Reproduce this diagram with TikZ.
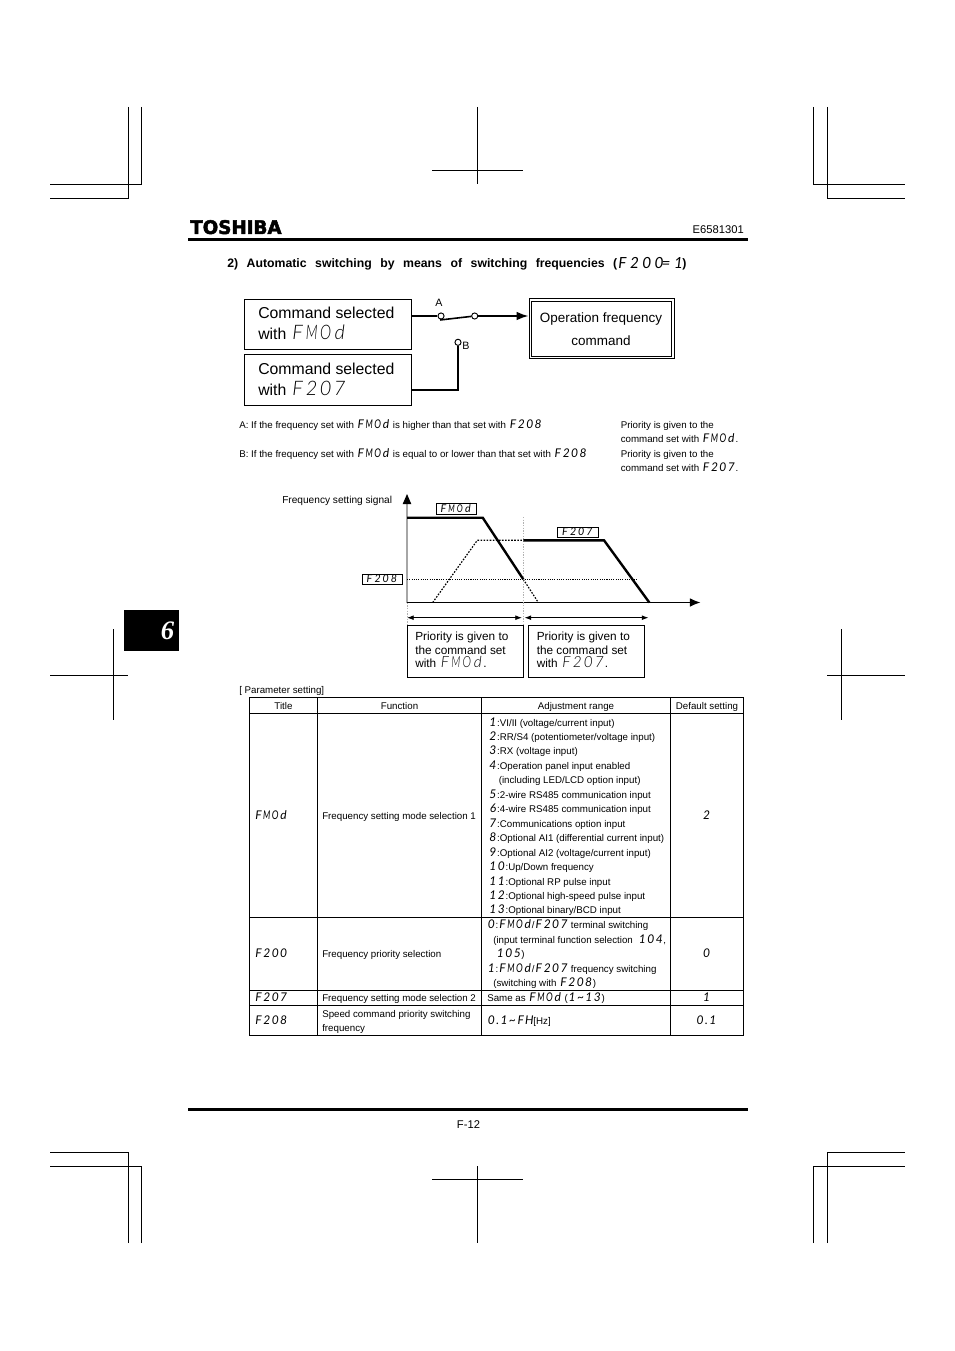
\documentclass[tikz,border=0pt]{standalone}
\usepackage{fontspec}
\setmainfont{Liberation Sans}
\newfontfamily\ledfont{Lato Italic}
\newfontfamily\ledlight{Lato Light Italic}
\newfontfamily\logofont[BoldFeatures={FakeBold=2.4}]{DejaVu Sans}
\newfontfamily\sixfont{Liberation Serif}
\usetikzlibrary{arrows.meta,calc}
\newdimen\ledpitch
\def\ledchar#1{\ifx.#1\makebox[.5\ledpitch][c]{.}\else\ifx M#1\makebox[\ledpitch][c]{\scalebox{.7}[1]{M}}\else\ifx O#1\makebox[\ledpitch][c]{\scalebox{.75}[1]{O}}\else\makebox[\ledpitch][c]{#1}\fi\fi\fi}
\def\ledloop#1{\ifx\relax#1\else\ledchar{#1}\expandafter\ledloop\fi}
\newcommand\led[4]{{#1\fontsize{#2}{#2}\selectfont\ledpitch=#3pt\relax\ledloop#4\relax}}
\newcommand\lb[1]{\led{\ledlight}{15}{10.5}{#1}}
\newcommand\lm[1]{\led{\ledlight}{11.5}{8.2}{#1}}
\newcommand\ls[1]{\led{\ledfont}{9}{6.3}{#1}}
\newcommand\lc[1]{\led{\ledfont}{8}{6.1}{#1}}
\newcommand\lh[1]{\led{\ledfont}{11.5}{9.2}{#1}}
\newcount\tcnt
\newcommand\T[4][]{\global\advance\tcnt by 1 \node[txt,#1] (t\the\tcnt) at (#2,#3) {#4};}
\newcommand\sz[1]{\fontsize{#1}{#1}\selectfont}
\tikzset{
  txt/.style={inner sep=0pt,anchor=base west,text=black,font=\sz{7.3}},
  ctr/.style={anchor=base},
  rgt/.style={anchor=base east},
  crop/.style={line width=0.75pt,black},
  grid/.style={line width=0.75pt,black},
  cbox/.style={draw,line width=0.75pt,inner sep=0pt,anchor=north west},
  term/.style={circle,draw,line width=0.7pt,fill=white,minimum size=4.6pt,inner sep=0pt},
  wire/.style={line width=1.5pt},
  signal/.style={line width=1.8pt,line join=miter},
  dots/.style={line width=0.9pt,dash pattern=on 1.2pt off 1.1pt},
  fine/.style={line width=0.6pt,dash pattern=on 0.8pt off 0.9pt},
  greydots/.style={line width=0.75pt,gray!60,dash pattern=on 1pt off 1pt},
  rule/.style={line width=2.3pt},
}
\begin{document}
\begin{tikzpicture}[x=0.75pt,y=-0.75pt]
\useasboundingbox[fill=white] (0,0) rectangle (954,1351);
% crop marks
\draw[crop] (128,107) -- (128,198.5) -- (50,198.5);
\draw[crop] (141.5,107) -- (141.5,184.5) -- (50,184.5);
\draw[crop] (813.5,107) -- (813.5,184.5) -- (905,184.5);
\draw[crop] (827,107) -- (827,198.5) -- (905,198.5);
\draw[crop] (477.5,107) -- (477.5,184.5) (432,170.5) -- (523,170.5);
\draw[crop] (477.5,1166) -- (477.5,1243) (432,1179.5) -- (523,1179.5);
\draw[crop] (113,629) -- (113,720) (50,675.5) -- (127.5,675.5);
\draw[crop] (841.5,629) -- (841.5,720) (827,675.5) -- (905,675.5);
\draw[crop] (128,1243) -- (128,1152.5) -- (50,1152.5);
\draw[crop] (141.5,1243) -- (141.5,1166.5) -- (50,1166.5);
\draw[crop] (813.5,1243) -- (813.5,1166.5) -- (905,1166.5);
\draw[crop] (827,1243) -- (827,1152.5) -- (905,1152.5);
% chapter tab
\fill[black] (124,610) rectangle (179,651);
\T[anchor=center]{167.5}{631}{\textcolor{white}{\sixfont\bfseries\itshape\sz{20}6}}
% header / footer
\T[anchor=south west]{190}{234.5}{\logofont\bfseries\resizebox{68.5pt}{10.4pt}{TOSHIBA}}
\T[rgt,font=\sz{8.4}]{744}{234}{E6581301}
\draw[rule] (188,239.5) -- (748,239.5);
\draw[rule] (188,1109.5) -- (748,1109.5);
\T[ctr,font=\sz{8.4}]{468.5}{1128}{F-12}
% heading
\T[font=\sz{9.2}\bfseries]{227}{268}{\makebox[292.5pt][s]{2) Automatic switching by means of switching frequencies (}}
\T{616}{268.5}{\lh{F200}}
\T[ctr]{666}{268.5}{\lh{=}}
\T[ctr]{678.5}{268.5}{\lh{1}}
\T[font=\sz{9.2}\bfseries]{682}{268}{)}
% switch diagram
\node[cbox,minimum width=125.5pt,minimum height=37.5pt] (box1) at (243.5,299.5) {};
\node[cbox,minimum width=125.5pt,minimum height=38pt] (box2) at (243.5,354.5) {};
\T[font=\sz{11.85}]{258}{319}{Command selected}
\T[font=\sz{11.85}]{258}{339.5}{with \lb{FMOd}}
\T[font=\sz{11.85}]{258}{375}{Command selected}
\T[font=\sz{11.85}]{258}{395.5}{with \lb{F207}}
\node[cbox,minimum width=108.75pt,minimum height=45pt] (opbox) at (528.5,298.5) {};
\node[cbox,minimum width=104.8pt,minimum height=41.2pt] (opinner) at (531,301) {};
\T[ctr,font=\sz{10.1}]{601}{322.5}{Operation frequency}
\T[ctr,font=\sz{10.1}]{601}{345.5}{command}
\node[term] (swA) at (441,316) {};
\node[term] (swB) at (474.7,316) {};
\node[term] (swC) at (458,342.3) {};
\coordinate (bend) at (458,390);
\T[ctr,font=\sz{8}]{439}{306.5}{A}
\T[ctr,font=\sz{8}]{465.8}{349.5}{B}
\draw[wire] (box1.east |- swA) -- (swA);
\draw[wire,line width=1.2pt] (440,320) -- (swB);
\draw[wire,line width=1.2pt,-{Latex[length=9pt,width=6.5pt]}] (swB) -- (opbox.west |- swB);
\draw[wire] (swC) -- (bend) -- (box2.east |- bend);
% conditions
\T{239}{428}{A: If the frequency set with \ls{FMOd} is higher than that set with \ls{F208}}
\T{239}{457}{B: If the frequency set with \ls{FMOd} is equal to or lower than that set with \ls{F208}}
\T{620.5}{428}{Priority is given to the}
\T{620.5}{442}{command set with \ls{FMOd}.}
\T{620.5}{457}{Priority is given to the}
\T{620.5}{471}{command set with \ls{F207}.}
% chart
\T[font=\sz{7.6}]{282}{503}{Frequency setting signal}
\coordinate (org) at (407,602.5);
\coordinate (ytop) at (407,494);
\coordinate (xend) at (700.5,602.5);
\draw[line width=0.9pt,gray!70] (org) -- (407,500);
\fill[black] (ytop) -- (411.3,504) -- (402.7,504) -- cycle;
\draw[line width=0.9pt,-{Latex[length=8pt,width=6.5pt]}] (org) -- (xend);
\draw[fine] (407,579.3) -- (638,579.3);
\draw[dots] (432.7,602.5) -- (477.3,540.3) -- (523.3,540.3);
\draw[dots] (523.3,579.3) -- (538.3,602.5);
\draw[greydots] (523.3,517) -- (523.3,625);
\draw[greydots] (407,602.5) -- (407,625);
\draw[signal] (407,517.7) -- (482.7,517.7) -- (523.3,579.3);
\draw[signal] (523.3,540.3) -- (604,540.3) -- (649.3,602.5);
\node[cbox,fill=white,minimum width=30pt,minimum height=8.3pt] (lab1) at (435.7,503.3) {};
\node[cbox,fill=white,minimum width=30.7pt,minimum height=8pt] (lab2) at (556.7,526.7) {};
\node[cbox,fill=white,minimum width=30.5pt,minimum height=7.8pt] (lab3) at (361.5,574) {};
\T[ctr]{455.7}{512.5}{\lc{FMOd}}
\T[ctr]{577.2}{535.8}{\lc{F207}}
\T[ctr]{381.7}{582.8}{\lc{F208}}
\coordinate (a1) at (407,617.7);
\coordinate (a3) at (648.5,617.7);
\draw[line width=0.6pt,{Latex[length=5pt,width=3.6pt]}-{Latex[length=5pt,width=3.6pt]}] (a1) -- (522,617.7);
\draw[line width=0.6pt,{Latex[length=5pt,width=3.6pt]}-{Latex[length=5pt,width=3.6pt]}] (524.5,617.7) -- (a3);
\node[cbox,minimum width=87.5pt,minimum height=38.8pt] (pri1) at (406.5,625) {};
\node[cbox,minimum width=87pt,minimum height=38.8pt] (pri2) at (528.3,625) {};
\T[font=\sz{8.85}]{415}{640}{Priority is given to}
\T[font=\sz{8.85}]{415}{654}{the command set}
\T[font=\sz{8.85}]{415}{667.5}{with \lm{FMOd}.}
\T[font=\sz{8.85}]{536.5}{640}{Priority is given to}
\T[font=\sz{8.85}]{536.5}{654}{the command set}
\T[font=\sz{8.85}]{536.5}{667.5}{with \lm{F207}.}
% table
\T{239}{693.5}{[ Parameter setting]}
\draw[grid] (249.5,697.5) rectangle (743.5,1035.5);
\draw[grid,line width=1.1pt] (249.5,713.5) -- (743.5,713.5);
\draw[grid] (249.5,917.5) -- (743.5,917.5) (249.5,990.5) -- (743.5,990.5) (249.5,1005.5) -- (743.5,1005.5);
\draw[grid] (317.5,697.5) -- (317.5,1035.5) (481.5,697.5) -- (481.5,1035.5) (670.5,697.5) -- (670.5,1035.5);
\T[ctr]{283.5}{709}{Title}
\T[ctr]{399.5}{709}{Function}
\T[ctr]{576}{709}{Adjustment range}
\T[ctr]{707}{709}{Default setting}
\T{254}{819}{\ls{FMOd}}
\T{322}{819}{Frequency setting mode selection 1}
\T[ctr]{706.5}{819}{\ls{2}}
\T{488.5}{726}{\ls{1}:VI/II (voltage/current input)}
\T{488.5}{740}{\ls{2}:RR/S4 (potentiometer/voltage input)}
\T{488.5}{754.5}{\ls{3}:RX (voltage input)}
\T{488.5}{769}{\ls{4}:Operation panel input enabled}
\T{498.5}{783.5}{(including LED/LCD option input)}
\T{488.5}{798}{\ls{5}:2-wire RS485 communication input}
\T{488.5}{812.5}{\ls{6}:4-wire RS485 communication input}
\T{488.5}{827}{\ls{7}:Communications option input}
\T{488.5}{841.5}{\ls{8}:Optional AI1 (differential current input)}
\T{488.5}{856}{\ls{9}:Optional AI2 (voltage/current input)}
\T{488.5}{870.5}{\ls{10}:Up/Down frequency}
\T{488.5}{885}{\ls{11}:Optional RP pulse input}
\T{488.5}{899.5}{\ls{12}:Optional high-speed pulse input}
\T{488.5}{913.5}{\ls{13}:Optional binary/BCD input}
\T{254}{957}{\ls{F200}}
\T{322}{957}{Frequency priority selection}
\T[ctr]{706.5}{957}{\ls{0}}
\T{487}{928.5}{\ls{0}:\ls{FMOd}/\ls{F207} terminal switching}
\T{493}{943}{(input terminal function selection \ \ls{104},}
\T{496}{957.5}{\ls{105})}
\T{487}{972}{\ls{1}:\ls{FMOd}/\ls{F207} frequency switching}
\T{493}{986.5}{(switching with \ls{F208})}
\T{254}{1001.5}{\ls{F207}}
\T{322}{1001.5}{Frequency setting mode selection 2}
\T{487}{1001.5}{Same as \ls{FMOd} (\ls{1}\ls{{\textasciitilde}}\ls{13})}
\T[ctr]{706.5}{1001.5}{\ls{1}}
\T{254}{1024}{\ls{F208}}
\T{322}{1017}{Speed command priority switching}
\T{322}{1031}{frequency}
\T{487}{1024}{\ls{0.1{\textasciitilde}FH}[Hz]}
\T[ctr]{706.5}{1024}{\ls{0.1}}
\end{tikzpicture}
\end{document}
